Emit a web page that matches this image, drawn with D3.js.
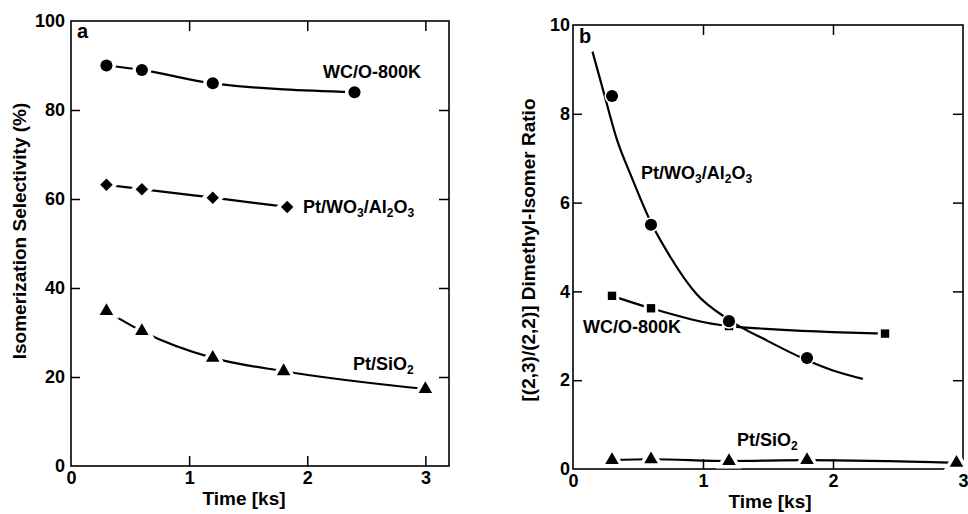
<!DOCTYPE html>
<html>
<head>
<meta charset="utf-8">
<script src="https://cdn.jsdelivr.net/npm/d3@7"></script>
<style>
body { margin: 0; background: #fff; }
text { font-family: "Liberation Sans", Arial, Helvetica, sans-serif; font-weight: bold; fill: #000; }
</style>
</head>
<body>
<script>
// panel a: isomerization selectivity (%)
var timeWC = [0.3, 0.6, 1.2, 2.4];
var selWC = [90, 89, 86, 84];
var timePtW = [0.3, 0.6, 1.2, 1.83];
var selPtW = [63.2, 62.2, 60.3, 58.2];
var timePtSi = [0.3, 0.6, 1.2, 1.8, 3.0];
var selPtSi = [34.8, 30.3, 24.3, 21.3, 17.3];

// panel b: [(2,3)/(2,2)] dimethyl-isomer ratio
var ratioTimePtW = [0.3, 0.6, 1.2, 1.8];
var ratioPtW = [8.4, 5.5, 3.33, 2.5];
// hand drawn fit curve for Pt/WO3/Al2O3
var fitTimePtW = [0.15, 0.23, 0.34, 0.45, 0.6, 0.75, 0.95, 1.2, 1.5, 1.8, 2.0, 2.23];
var fitPtW = [9.4, 8.55, 7.4, 6.58, 5.55, 4.77, 3.94, 3.36, 2.88, 2.45, 2.22, 2.03];
var ratioTimeWC = [0.3, 0.6, 1.2, 2.4];
var ratioWC = [3.9, 3.62, 3.22, 3.05];
var ratioTimePtSi = [0.3, 0.6, 1.2, 1.8, 2.95];
var ratioPtSi = [0.2, 0.22, 0.18, 0.2, 0.14];

var xTicks = [0, 1, 2, 3];
var yTicksA = [0, 20, 40, 60, 80, 100];
var yTicksB = [0, 2, 4, 6, 8, 10];

var W = 968, H = 514;

var svg = d3.select("body").append("svg")
    .attr("width", W)
    .attr("height", H)
    .style("background", "#fff");

// scales for both panels
var xA = d3.scaleLinear().domain([0, 3.2]).range([71, 449]);
var yA = d3.scaleLinear().domain([0, 100]).range([466, 21]);
var xB = d3.scaleLinear().domain([0, 3]).range([573, 963]);
var yB = d3.scaleLinear().domain([0, 10]).range([469, 25]);

function zip(xs, ys) {
    return xs.map(function(x, i) { return [x, ys[i]]; });
}

function drawFrame(x, y, yTicks, yPad, yTitle, titleX, titleY, timeX, timeY) {
    var x0 = x.range()[0], x1 = x.range()[1];
    var y0 = y.range()[0], y1 = y.range()[1];
    var g = svg.append("g");
    var fmt = d3.format("d");

    var inner = function(d) { return d !== x.domain()[0] && d < x.domain()[1]; };
    var innerY = function(d) { return d !== y.domain()[0] && d !== y.domain()[1]; };

    // bottom axis with labels, ticks point inward
    var bottom = g.append("g")
        .attr("transform", "translate(0," + y0 + ")")
        .call(d3.axisBottom(x).tickValues(xTicks).tickSize(-10).tickPadding(5).tickFormat(fmt));
    bottom.selectAll(".tick line").style("display", function(d) { return inner(d) ? null : "none"; });

    // top ticks
    var top = g.append("g")
        .attr("transform", "translate(0," + y1 + ")")
        .call(d3.axisTop(x).tickValues(xTicks).tickSize(-10).tickFormat(""));
    top.selectAll(".tick line").style("display", function(d) { return inner(d) ? null : "none"; });

    // left axis with labels
    var left = g.append("g")
        .attr("transform", "translate(" + x0 + ",0)")
        .call(d3.axisLeft(y).tickValues(yTicks).tickSize(-9).tickPadding(yPad).tickFormat(fmt));
    left.selectAll(".tick line").style("display", function(d) { return innerY(d) ? null : "none"; });

    // right ticks
    var right = g.append("g")
        .attr("transform", "translate(" + x1 + ",0)")
        .call(d3.axisRight(y).tickValues(yTicks).tickSize(-10).tickFormat(""));
    right.selectAll(".tick line").style("display", function(d) { return innerY(d) ? null : "none"; });

    g.selectAll(".domain").remove();
    g.selectAll(".tick line").attr("stroke", "#000").attr("stroke-width", 1.5);
    g.selectAll(".tick text")
        .attr("fill", "#000")
        .style("font-size", "18px")
        .style("font-family", "'Liberation Sans', Arial, sans-serif")
        .style("font-weight", "bold");

    // frame
    g.append("rect")
        .attr("x", x0)
        .attr("y", y1)
        .attr("width", x1 - x0)
        .attr("height", y0 - y1)
        .attr("fill", "none")
        .attr("stroke", "#000")
        .attr("stroke-width", 1.6);

    // y title
    g.append("text")
        .attr("transform", "translate(" + titleX + "," + titleY + ") rotate(-90)")
        .attr("text-anchor", "middle")
        .style("font-size", "19px")
        .text(yTitle);

    // x title
    g.append("text")
        .attr("x", timeX)
        .attr("y", timeY)
        .attr("text-anchor", "middle")
        .style("font-size", "19px")
        .text("Time [ks]");
}

function drawLine(x, y, pts) {
    svg.append("path")
        .datum(pts)
        .attr("fill", "none")
        .attr("stroke", "#000")
        .attr("stroke-width", 2.2)
        .attr("d", d3.line()
            .x(function(d) { return x(d[0]); })
            .y(function(d) { return y(d[1]); })
            .curve(d3.curveMonotoneX));
}

function drawMarkers(x, y, pts, type, size, rot, halo) {
    svg.append("g").selectAll("path")
        .data(pts)
        .enter().append("path")
        .attr("d", d3.symbol().type(type).size(size))
        .attr("transform", function(d) {
            return "translate(" + x(d[0]) + "," + y(d[1]) + ")" + (rot ? " rotate(" + rot + ")" : "");
        })
        .attr("fill", "#000")
        .attr("stroke", "#fff")
        .attr("stroke-width", halo)
        .style("paint-order", "stroke");
}

// label with subscripts: parts = [[text, isSub], ...]
function label(x, y, parts) {
    var t = svg.append("text")
        .attr("x", x)
        .attr("y", y)
        .style("font-size", "18px");
    var shifted = false;
    parts.forEach(function(p) {
        var s = t.append("tspan").text(p[0]);
        if (p[1] && !shifted) { s.attr("dy", 4).style("font-size", "12px"); shifted = true; }
        else if (p[1]) { s.style("font-size", "12px"); }
        else if (shifted) { s.attr("dy", -4); shifted = false; }
    });
}

// ---- panel a ----
drawFrame(xA, yA, yTicksA, 6, "Isomerization Selectivity (%)", 26, 231, 244, 505);

drawLine(xA, yA, zip(timeWC, selWC));
drawLine(xA, yA, zip(timePtW, selPtW));
drawLine(xA, yA, zip(timePtSi, selPtSi));
drawMarkers(xA, yA, zip(timeWC, selWC), d3.symbolCircle, 115, 0, 7);
drawMarkers(xA, yA, zip(timePtW, selPtW), d3.symbolSquare, 78, 45, 7);
drawMarkers(xA, yA, zip(timePtSi, selPtSi), d3.symbolTriangle, 80, 0, 7);

svg.append("text").attr("x", 77).attr("y", 38).style("font-size", "20px").text("a");
label(323, 78, [["WC/O-800K", false]]);
label(303, 213, [["Pt/WO", false], ["3", true], ["/Al", false], ["2", true], ["O", false], ["3", true]]);
label(353, 370, [["Pt/SiO", false], ["2", true]]);

// ---- panel b ----
drawFrame(xB, yB, yTicksB, 3, "[(2,3)/(2,2)] Dimethyl-Isomer Ratio", 535, 250, 770, 508);

drawLine(xB, yB, zip(fitTimePtW, fitPtW));
drawLine(xB, yB, zip(ratioTimeWC, ratioWC));
drawLine(xB, yB, zip(ratioTimePtSi, ratioPtSi));
drawMarkers(xB, yB, zip(ratioTimeWC, ratioWC), d3.symbolSquare, 70, 0, 6);
drawMarkers(xB, yB, zip(ratioTimePtW, ratioPtW), d3.symbolCircle, 115, 0, 3);
drawMarkers(xB, yB, zip(ratioTimePtSi, ratioPtSi), d3.symbolTriangle, 80, 0, 7);

svg.append("text").attr("x", 579).attr("y", 43).style("font-size", "20px").text("b");
label(641, 179, [["Pt/WO", false], ["3", true], ["/Al", false], ["2", true], ["O", false], ["3", true]]);
label(583, 333, [["WC/O-800K", false]]);
label(737, 446, [["Pt/SiO", false], ["2", true]]);
</script>
</body>
</html>
